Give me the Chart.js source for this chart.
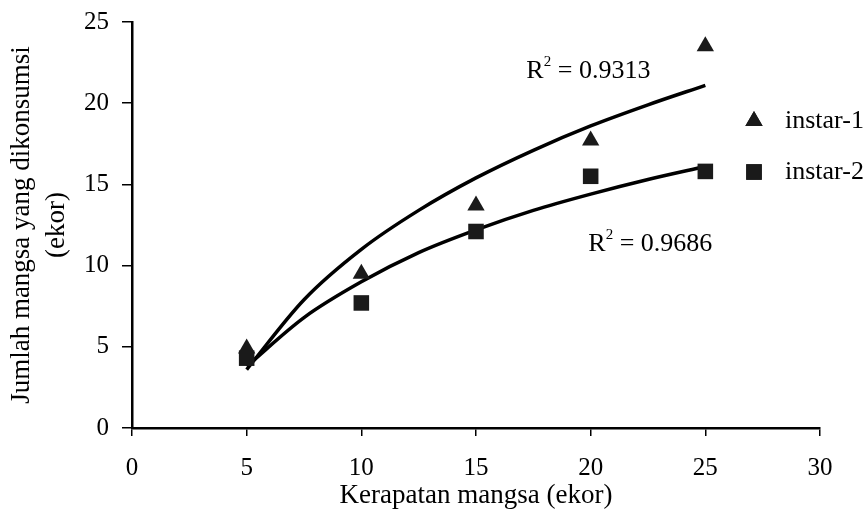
<!DOCTYPE html>
<html lang="id">
<head>
<meta charset="UTF-8">
<title>Kerapatan mangsa</title>
<script src="https://cdn.jsdelivr.net/npm/chart.js"></script>
<style>
    body { margin: 0; background: #fff; }
    #wrap { width: 865px; height: 520px; }
</style>
</head>
<body>
<div id="wrap"><canvas id="chart" width="865" height="520"></canvas></div>
<script>
    // data
    const kerapatan = [5, 10, 15, 20, 25];
    const instar1 = [4.9, 9.5, 13.7, 17.7, 23.5];
    const instar2 = [4.3, 7.7, 12.1, 15.5, 15.8];

    // titik garis tren (dibaca dari kurva)
    const trenX = [5, 7.5, 10, 12.5, 15, 17.5, 20, 22.5, 25];
    const tren1 = [3.6, 7.9, 11.0, 13.4, 15.4, 17.1, 18.6, 19.9, 21.1];
    const tren2 = [3.8, 6.8, 9.0, 10.8, 12.2, 13.4, 14.4, 15.3, 16.1];

    const xTicks = [0, 5, 10, 15, 20, 25, 30];
    const yTicks = [0, 5, 10, 15, 20, 25];

    const labelR2 = [
        { x: 19.9, y: 22.0, text: '0.9313' },
        { x: 22.6, y: 11.3, text: '0.9686' }
    ];

    const toXY = (xs, ys) => xs.map((x, i) => ({ x: x, y: ys[i] }));
    const serif = "'Liberation Serif', 'DejaVu Serif', serif";

    // label R² dan legenda digambar sendiri
    const annotasi = {
        id: 'annotasi',
        afterDatasetsDraw(chart) {
            const ctx = chart.ctx;
            const sx = chart.scales.x, sy = chart.scales.y;
            ctx.save();
            ctx.fillStyle = '#000';
            ctx.textBaseline = 'middle';
            ctx.textAlign = 'left';
            labelR2.forEach(l => {
                const px = sx.getPixelForValue(l.x);
                const py = sy.getPixelForValue(l.y);
                const rest = ' = ' + l.text;
                ctx.font = '26px ' + serif;
                const wR = ctx.measureText('R').width;
                const wRest = ctx.measureText(rest).width;
                ctx.font = '15px ' + serif;
                const w2 = ctx.measureText('2').width;
                const x0 = px - (wR + w2 + wRest) / 2;
                ctx.font = '26px ' + serif;
                ctx.fillText('R', x0, py);
                ctx.fillText(rest, x0 + wR + w2, py);
                ctx.font = '15px ' + serif;
                ctx.fillText('2', x0 + wR, py - 9);
            });

            // legenda
            const items = [
                { label: 'instar-1', style: 'triangle', r: 10, y: 121 },
                { label: 'instar-2', style: 'rect', r: 11, y: 172 }
            ];
            items.forEach(it => {
                ctx.fillStyle = '#1a1a1a';
                Chart.helpers.drawPoint(ctx, { pointStyle: it.style, radius: it.r, borderWidth: 0 }, 754, it.y);
                ctx.fill();
                ctx.fillStyle = '#000';
                ctx.font = '26px ' + serif;
                ctx.fillText(it.label, 785, it.y);
            });
            ctx.restore();
        }
    };

    new Chart(document.getElementById('chart'), {
        type: 'scatter',
        data: {
            datasets: [
                {
                    label: 'instar-1',
                    data: toXY(kerapatan, instar1),
                    pointStyle: 'triangle',
                    pointRadius: 10,
                    backgroundColor: '#1a1a1a',
                    borderWidth: 0,
                    order: 1
                },
                {
                    label: 'instar-2',
                    data: toXY(kerapatan, instar2),
                    pointStyle: 'rect',
                    pointRadius: 11,
                    backgroundColor: '#1a1a1a',
                    borderWidth: 0,
                    order: 1
                },
                {
                    label: 'tren-1',
                    data: toXY(trenX, tren1),
                    showLine: true,
                    pointRadius: 0,
                    borderColor: '#000',
                    borderWidth: 3.5,
                    cubicInterpolationMode: 'monotone',
                    order: 2
                },
                {
                    label: 'tren-2',
                    data: toXY(trenX, tren2),
                    showLine: true,
                    pointRadius: 0,
                    borderColor: '#000',
                    borderWidth: 3.5,
                    cubicInterpolationMode: 'monotone',
                    order: 2
                }
            ]
        },
        options: {
            responsive: false,
            animation: false,
            layout: { padding: { top: 22, right: 45, left: 0, bottom: 0 } },
            plugins: {
                legend: { display: false },
                tooltip: { enabled: false }
            },
            scales: {
                x: {
                    type: 'linear',
                    min: 0,
                    max: 30,
                    afterBuildTicks: s => { s.ticks = xTicks.map(v => ({ value: v })); },
                    afterFit: s => { s.height = 92; s.paddingLeft = 0; s.paddingRight = 0; },
                    grid: { drawOnChartArea: false, drawTicks: true, tickLength: 8, color: '#000', lineWidth: 1.5 },
                    border: { color: '#000', width: 2.5 },
                    ticks: { color: '#000', font: { family: serif, size: 25 }, padding: 17, maxRotation: 0 },
                    title: { display: true, text: 'Kerapatan mangsa (ekor)', color: '#000', font: { family: serif, size: 27 }, padding: { top: 0, bottom: 8 } }
                },
                y: {
                    min: 0,
                    max: 25,
                    afterBuildTicks: s => { s.ticks = yTicks.map(v => ({ value: v })); },
                    afterFit: s => { s.width = 132; s.paddingTop = 0; s.paddingBottom = 0; },
                    grid: { drawOnChartArea: false, drawTicks: true, tickLength: 10, color: '#000', lineWidth: 1.5 },
                    border: { color: '#000', width: 2.5 },
                    ticks: { color: '#000', font: { family: serif, size: 25 }, padding: 13 },
                    title: { display: true, text: ['Jumlah mangsa yang dikonsumsi', '(ekor)'], color: '#000', font: { family: serif, size: 27, lineHeight: 1.3 }, padding: { top: 4, bottom: 0 } }
                }
            }
        },
        plugins: [annotasi]
    });
</script>
</body>
</html>
